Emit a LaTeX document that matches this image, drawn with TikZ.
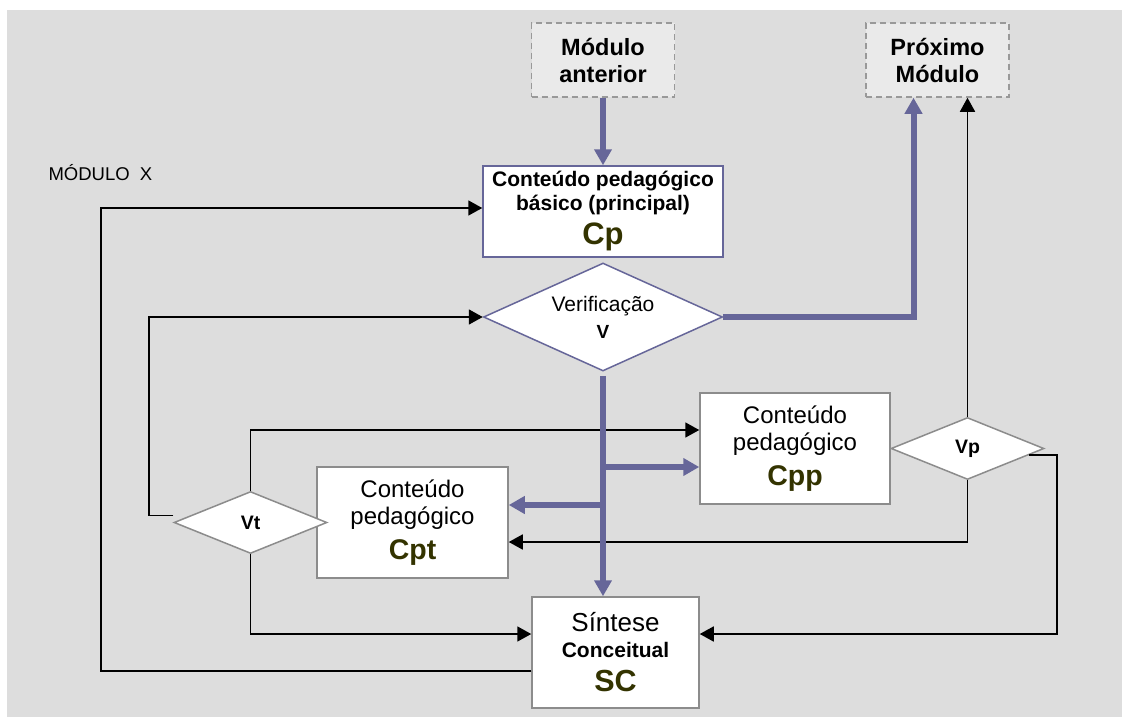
\documentclass[tikz,border=0pt]{standalone}
\usepackage{fontspec}
\setmainfont{Liberation Sans}
\usetikzlibrary{positioning,shapes.geometric,arrows.meta,calc}

\definecolor{bggray}{HTML}{DDDDDD}
\definecolor{modfill}{HTML}{EAEAEA}
\definecolor{dashgray}{HTML}{999999}
\definecolor{boxgray}{HTML}{8C8C8C}
\definecolor{flowpurple}{HTML}{666699}
\definecolor{labelolive}{HTML}{333300}

\newcommand{\fsz}[2]{\fontsize{#1}{#2}\selectfont}
\newcommand{\bigcode}[2]{{\bfseries\fsz{#1}{#1}\color{labelolive}#2}}

\begin{document}
\begin{tikzpicture}[
    x=1pt, y=-1pt,
    node distance=100pt,
    block/.style={rectangle, draw=boxgray, fill=white, line width=1.5pt, align=center, inner sep=0pt},
    modbox/.style={rectangle, draw=dashgray, dash pattern=on 6pt off 4pt, fill=modfill, line width=1.5pt,
        minimum width=143pt, minimum height=74pt, align=center, inner sep=0pt, font=\bfseries\fsz{23.5}{27}},
    decision/.style={diamond, draw=boxgray, fill=white, line width=1.5pt, aspect=2.4, inner sep=0pt,
        minimum width=153pt, minimum height=62pt, align=center, font=\bfseries\fsz{19.5}{22}},
    link/.style={line width=1.7pt, -{Triangle[length=14pt,width=15pt]}},
    flow/.style={draw=flowpurple, line width=6pt, -{Triangle[length=16pt,width=17pt]}}
]
    \useasboundingbox (0,0) rectangle (1122,717);
    \fill[bggray] (7,10) rectangle (1122,717);

    \node[anchor=west, font=\fsz{18.5}{22}] (title) at (45,173) {MÓDULO~~X};

    % main column
    \node[block, draw=flowpurple, minimum width=240pt, minimum height=91pt, font=\bfseries\fsz{21}{24}] (cp) at (603,211.5)
        {Conteúdo pedagógico\\básico (principal)\\[7pt]\bigcode{31}{Cp}};
    \node[modbox, above of=cp, node distance=151.5pt] (ant) {Módulo\\anterior};
    \node[modbox, right of=ant, node distance=334.5pt] (prox) {Próximo\\Módulo};
    \node[decision, draw=flowpurple, below of=cp, node distance=105.5pt, minimum width=239pt, minimum height=108pt,
        font=\fsz{21}{27}] (v) {Verificação\\{\bfseries\fsz{19}{22}V}};

    % side contents and their checks
    \node[block, minimum width=190pt, minimum height=111pt, font=\fsz{24}{27}] (cpp) at (795,448.5)
        {Conteúdo\\pedagógico\\[8pt]\bigcode{28.5}{Cpp}};
    \node[decision, right of=cpp, node distance=172.5pt] (vp) {Vp};
    \node[block, minimum width=191pt, minimum height=111pt, font=\fsz{24}{27}] (cpt) at (412.5,522.5)
        {Conteúdo\\pedagógico\\[8pt]\bigcode{28.5}{Cpt}};
    \node[decision, left of=cpt, node distance=162pt] (vt) {Vt};
    \node[block, minimum width=167pt, minimum height=111pt, font=\fsz{26}{26}] (sc) at (615.5,652.5)
        {Síntese\\{\bfseries\fsz{21}{24}Conceitual}\\[8pt]\bigcode{30.5}{SC}};

    % feedback loops
    \draw[link] ([yshift=-18.5pt]sc.west) -- ++(-430,0) |- ([yshift=3.5pt]cp.west);
    \draw[link] ([yshift=7pt]vt.west) -- ++(-24,0) |- (v.west);
    \draw[link] (vt.north) |- ([yshift=18.5pt]cpp.west);
    \draw[link] (vt.south) |- ([yshift=18.5pt]sc.west);
    \draw[link] (vp.north) -- (vp.north |- prox.south);
    \draw[link] (vp.south) |- ([yshift=-19.5pt]cpt.east);
    \draw[link] ($(vp.east)!0.2!(vp.south)$) -- ++(28,0) |- ([yshift=18.5pt]sc.east);

    % main flow
    \coordinate (forkcpp) at (v.south |- 0,467);
    \coordinate (forkcpt) at (v.south |- 0,505);
    \draw[flow] (ant.south) -- (ant.south |- cp.north);
    \draw[flow] (v.east) -| ([xshift=-24pt]prox.south);
    \draw[flow, shorten <=4pt] (v.south) -- (v.south |- sc.north);
    \draw[flow] (forkcpp) -- (forkcpp -| cpp.west);
    \draw[flow] (forkcpt) -- (forkcpt -| cpt.east);
\end{tikzpicture}
\end{document}
